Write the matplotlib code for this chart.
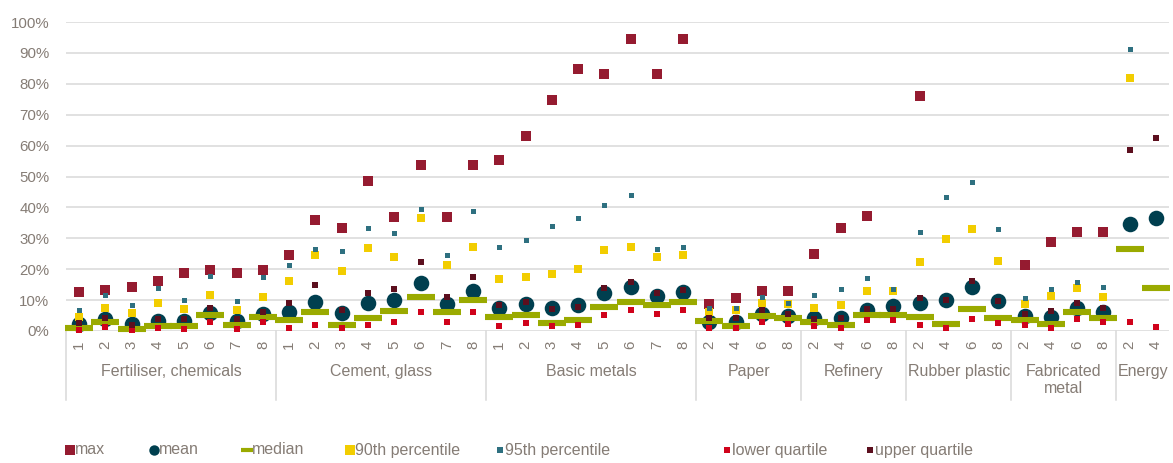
import numpy as np
import matplotlib
matplotlib.use('Agg')
import matplotlib.pyplot as plt
from matplotlib.lines import Line2D

plt.rcParams['font.family'] = ['Liberation Sans', 'DejaVu Sans']

nan = np.nan
groups = ["Fertiliser, chemicals", "Cement, glass", "Basic metals", "Paper",
          "Refinery", "Rubber plastic", "Fabricated\nmetal", "Energy"]
group_sizes = [8, 8, 8, 4, 4, 4, 4, 2]
cat_labels = ([str(i) for i in range(1, 9)] * 3 + ["2", "4", "6", "8"] * 4 + ["2", "4"])

# values in %
vmax = [12.6, 13.3, 14.3, 16.2, 18.9, 19.7, 18.9, 19.7,
        24.7, 35.9, 33.3, 48.4, 37.0, 53.8, 37.0, 53.8,
        55.5, 63.0, 74.9, 84.9, 83.2, 94.4, 83.2, 94.4,
        8.8, 10.6, 13.1, 13.1,
        24.8, 33.3, 37.1, nan,
        75.9, nan, nan, nan,
        21.3, 28.9, 32.1, 32.1,
        nan, nan]
vmean = [2.2, 3.8, 2.4, 3.2, 3.2, 5.9, 3.2, 5.4,
         6.3, 9.5, 5.9, 8.9, 9.9, 15.4, 8.6, 12.9,
         7.4, 8.7, 7.5, 8.4, 12.4, 14.2, 11.3, 12.5,
         2.8, 3.0, 5.6, 4.8,
         4.1, 4.1, 6.7, 8.1,
         9.1, 10.0, 14.2, 9.7,
         4.8, 4.5, 7.5, 6.1,
         34.6, 36.5]
vmedian = [1.1, 2.9, 0.5, 1.6, 1.6, 5.1, 1.9, 4.5,
           3.6, 6.1, 2.0, 4.1, 6.4, 11.0, 6.1, 10.0,
           4.6, 5.3, 2.7, 3.6, 7.7, 9.5, 8.5, 9.5,
           3.1, 1.6, 4.8, 4.1,
           2.9, 1.8, 5.3, 5.3,
           4.5, 2.2, 7.0, 4.1,
           3.4, 2.4, 6.1, 4.3,
           26.5, 13.9]
vp90 = [4.6, 7.3, 5.7, 9.1, 7.0, 11.5, 6.7, 11.1,
        16.2, 24.5, 19.5, 27.0, 24.1, 36.6, 21.3, 27.2,
        16.7, 17.6, 18.5, 20.0, 26.3, 27.2, 24.1, 24.7,
        6.1, 6.8, 8.9, 8.6,
        7.4, 8.3, 13.0, 12.9,
        22.2, 29.8, 33.1, 22.7,
        8.7, 11.3, 14.0, 11.1,
        81.8, nan]
vp95 = [6.7, 11.7, 8.3, 14.0, 10.0, 17.8, 9.6, 17.6,
        21.2, 26.5, 26.0, 33.2, 31.8, 39.5, 24.5, 38.9,
        27.3, 29.3, 34.1, 36.5, 40.9, 44.0, 26.5, 27.3,
        7.3, 7.5, 11.1, 8.9,
        11.6, 13.6, 17.3, 13.6,
        32.2, 43.4, 48.3, 33.1,
        10.7, 13.6, 15.9, 14.2,
        91.2, nan]
vlower = [0.3, 1.3, 0.2, 1.1, 0.5, 2.9, 0.8, 2.9,
          1.1, 1.9, 0.9, 1.8, 2.8, 6.0, 3.0, 6.1,
          1.6, 2.7, 1.6, 2.0, 5.1, 6.7, 5.5, 6.7,
          1.1, 1.1, 2.9, 2.2,
          1.6, 1.0, 3.6, 3.6,
          1.9, 1.0, 4.0, 2.5,
          2.0, 1.0, 4.0, 3.0,
          2.8, 1.4]
vupper = [2.7, 4.1, 1.8, 4.0, 4.0, 7.3, 3.8, 6.3,
          9.1, 14.9, 6.7, 12.4, 13.6, 22.2, 11.0, 17.6,
          8.5, 9.3, 7.2, 7.9, 13.8, 15.7, 12.3, 13.3,
          4.2, 4.2, 6.7, 5.4,
          4.0, 4.1, 7.0, 7.0,
          10.8, 9.9, 16.2, 9.7,
          5.6, 6.5, 8.9, 7.3,
          58.6, 62.4]

txt = '#857c75'
series = [
    ("max", vmax, dict(marker='s', color='#951b30', ms=7.8)),
    ("mean", vmean, dict(marker='o', color='#003f4f', ms=11.2)),
    ("median", vmedian, dict(marker='_', color='#9aaa00', ms=19.5, mew=4.4)),
    ("90th percentile", vp90, dict(marker='s', color='#f2cd00', ms=6.0)),
    ("95th percentile", vp95, dict(marker='s', color='#2e7080', ms=3.6)),
    ("lower quartile", vlower, dict(marker='s', color='#d0021b', ms=4.8)),
    ("upper quartile", vupper, dict(marker='s', color='#5c0f1e', ms=4.8)),
]

fig = plt.figure(figsize=(11.73, 4.63), dpi=100)
W, H = 1173, 463
ax = fig.add_axes([66 / W, (H - 331) / H, (1169 - 66) / W, 309 / H])

x = np.arange(len(cat_labels))
for z, (name, vals, st) in enumerate(series):
    ms = st.pop('ms')
    mew = st.pop('mew', 0)
    ax.plot(x, np.array(vals) / 100, linestyle='none', markersize=ms,
            markeredgewidth=mew, zorder=3 + z, clip_on=False, **st)
    st['ms'] = ms
    st['mew'] = mew

ax.set_xlim(-0.5, len(cat_labels) - 0.5)
ax.set_ylim(0, 1.0)
ax.set_yticks(np.arange(0, 1.01, 0.1))
ax.set_yticklabels([f"{int(round(v * 100))}%" for v in np.arange(0, 1.01, 0.1)])
ax.grid(axis='y', color='#d9d9d9', lw=1.1, zorder=0)
ax.set_axisbelow(True)
for s in ax.spines.values():
    s.set_visible(False)
ax.tick_params(axis='y', length=0, pad=12, labelsize=10.8, labelcolor=txt)
ax.set_xticks(x)
ax.set_xticklabels(cat_labels, rotation=90)
ax.tick_params(axis='x', length=0, pad=7, labelsize=10.8, labelcolor=txt)

trans = ax.get_xaxis_transform()
bounds = np.concatenate([[0], np.cumsum(group_sizes)]) - 0.5
y_lo = (331 - 400) / 309
for b in bounds[:-1]:
    ax.plot([b, b], [0, y_lo], color='#d9d9d9', lw=1.1, transform=trans, clip_on=False)
for g, a, b in zip(groups, bounds[:-1], bounds[1:]):
    ax.text((a + b) / 2, (331 - 364) / 309, g, transform=trans, ha='center', va='top',
            fontsize=11.5, color=txt, linespacing=1.2)

# legend
leg_x = [70, 154, 247, 350, 500, 727, 870]
leg_y = (H - 450) / H
for lx, (name, vals, st) in zip(leg_x, series):
    if name == "median":
        h = Line2D([lx / W], [leg_y], transform=fig.transFigure, marker='_',
                   color=st['color'], ms=9, mew=3, linestyle='none')
    else:
        ms = {"max": 7.5, "mean": 7.5, "90th percentile": 7.0}.get(name, 4.5)
        h = Line2D([lx / W], [leg_y], transform=fig.transFigure, marker=st['marker'],
                   color=st['color'], ms=ms, mew=0, linestyle='none')
    fig.add_artist(h)
    fig.text((lx + 5) / W, leg_y, name, ha='left', va='center', fontsize=11.5, color=txt)

fig.savefig('out.png', dpi=100)
